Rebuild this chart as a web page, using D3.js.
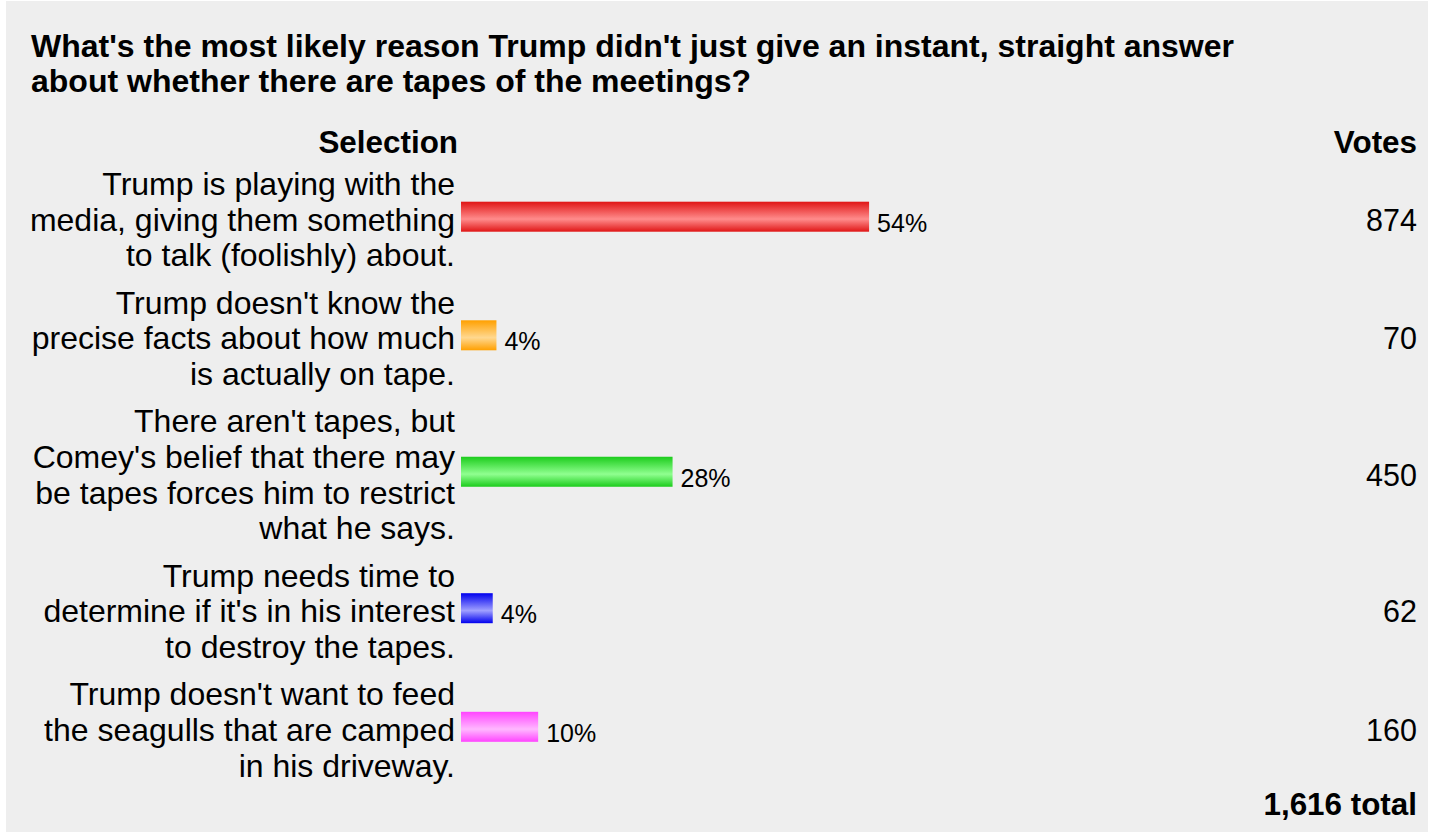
<!DOCTYPE html>
<html><head><meta charset="utf-8">
<script src="https://cdn.jsdelivr.net/npm/d3@7"></script>
<style>
html,body{margin:0;padding:0;background:#fff;}
svg{display:block;font-family:Helvetica, Arial, "Liberation Sans", sans-serif;}
</style></head>
<body><svg id="chart" width="1434" height="834"></svg>
<script>
const titleLines = ["What's the most likely reason Trump didn't just give an instant, straight answer",
                    "about whether there are tapes of the meetings?"];
const categories = [
  ["Trump is playing with the", "media, giving them something", "to talk (foolishly) about."],
  ["Trump doesn't know the", "precise facts about how much", "is actually on tape."],
  ["There aren't tapes, but", "Comey's belief that there may", "be tapes forces him to restrict", "what he says."],
  ["Trump needs time to", "determine if it's in his interest", "to destroy the tapes."],
  ["Trump doesn't want to feed", "the seagulls that are camped", "in his driveway."]
];
const votes = [874, 70, 450, 62, 160];
const colorsEdge = ["#e01515", "#ffa000", "#1ccc1c", "#0000ee", "#ff44ff"];
const colorsMid  = ["#ff8c8c", "#ffd890", "#90ff90", "#a0a0ff", "#ffb8ff"];
const headers = ["Selection", "Votes"];

const total = d3.sum(votes);
const svg = d3.select("#chart");

svg.append("rect").attr("x", 6).attr("y", 1).attr("width", 1422).attr("height", 831).attr("fill", "#eeeeee");

// title
svg.append("g").selectAll("text").data(titleLines).join("text")
  .attr("x", 31).attr("y", (d, i) => 57 + i * 35)
  .attr("font-size", 32).attr("font-weight", "bold").attr("fill", "#000")
  .text(d => d);

const labelRight = 455, barX = 461, votesRight = 1417;
svg.append("text").attr("x", 458).attr("y", 153).attr("text-anchor", "end")
  .attr("font-size", 31.4).attr("font-weight", "bold").text(headers[0]);
svg.append("text").attr("x", votesRight).attr("y", 153).attr("text-anchor", "end")
  .attr("font-size", 31.4).attr("font-weight", "bold").text(headers[1]);

// rows layout
const lineH = 35.7, gap = 11.5, firstBase = 195;
const rows = [];
let base = firstBase;
categories.forEach((lines, i) => {
  rows.push({lines, votes: votes[i], i, base});
  base += lines.length * lineH + gap;
});

const w = d3.scaleLinear().domain([0, 100]).range([3, 752]);

const defs = svg.append("defs");
rows.forEach(r => {
  const g = defs.append("linearGradient").attr("id", "grad" + r.i)
    .attr("x1", 0).attr("y1", 0).attr("x2", 0).attr("y2", 1);
  g.append("stop").attr("offset", "0%").attr("stop-color", colorsEdge[r.i]);
  g.append("stop").attr("offset", "58%").attr("stop-color", colorsMid[r.i]);
  g.append("stop").attr("offset", "100%").attr("stop-color", colorsEdge[r.i]);
});

const rowG = svg.append("g").selectAll("g").data(rows).join("g");

rowG.each(function(r) {
  const g = d3.select(this);
  const n = r.lines.length;
  const center = r.base + (n - 1) * lineH / 2 - 11;
  const pct = r.votes / total * 100;
  g.selectAll("text.lab").data(r.lines).join("text").attr("class", "lab")
    .attr("x", labelRight).attr("y", (d, k) => r.base + k * lineH)
    .attr("text-anchor", "end").attr("font-size", 32).attr("fill", "#000").text(d => d);
  g.append("rect").attr("x", barX).attr("y", center - 18).attr("width", w(pct)).attr("height", 30)
    .attr("fill", `url(#grad${r.i})`);
  g.append("text").attr("x", barX + w(pct) + 8).attr("y", center + 12)
    .attr("font-size", 25).attr("fill", "#000").text(Math.round(pct) + "%");
  g.append("text").attr("x", votesRight).attr("y", center + 11).attr("text-anchor", "end")
    .attr("font-size", 30.5).attr("fill", "#000").text(d3.format(",")(r.votes));
});

svg.append("text").attr("x", votesRight).attr("y", 815).attr("text-anchor", "end")
  .attr("font-size", 31.4).attr("font-weight", "bold").text(d3.format(",")(total) + " total");
</script></body></html>
